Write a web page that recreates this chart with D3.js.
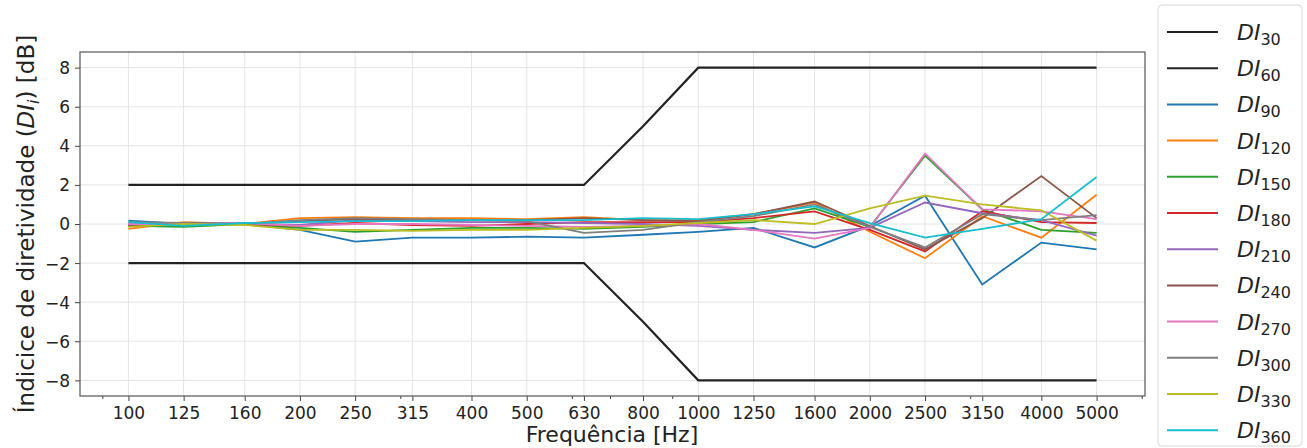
<!DOCTYPE html>
<html>
<head>
<meta charset="utf-8">
<script src="https://cdn.jsdelivr.net/npm/d3@7"></script>
<style>
  body { margin: 0; background: #fff; }
  text { font-family: "DejaVu Sans", sans-serif; fill: #222; }
</style>
</head>
<body>
<svg id="chart" width="1307" height="448"></svg>
<script>
// frequencies (Hz) on the x axis
var freqs = [100, 125, 160, 200, 250, 315, 400, 500, 630, 800, 1000, 1250, 1600, 2000, 2500, 3150, 4000, 5000];
var minorFreqs = [90, 300, 600, 700, 900, 3000, 6000];
var yTicks = [-8, -6, -4, -2, 0, 2, 4, 6, 8];

// tolerance limits
var di30 = [2, 2, 2, 2, 2, 2, 2, 2, 2, 5, 8, 8, 8, 8, 8, 8, 8, 8];
var di60 = [-2, -2, -2, -2, -2, -2, -2, -2, -2, -5, -8, -8, -8, -8, -8, -8, -8, -8];

// measured directivity index per angle
var di90  = [0.17, 0.0, 0.0, -0.3, -0.9, -0.7, -0.7, -0.65, -0.7, -0.55, -0.4, -0.2, -1.2, -0.1, 1.45, -3.1, -0.95, -1.3];
var di120 = [-0.25, 0.1, 0.0, 0.3, 0.35, 0.3, 0.3, 0.25, 0.35, 0.2, 0.2, 0.5, 1.1, -0.4, -1.75, 0.4, -0.7, 1.5];
var di150 = [-0.1, -0.15, 0.0, -0.2, -0.4, -0.3, -0.2, -0.2, -0.25, -0.15, 0.0, 0.1, 0.8, -0.15, 3.5, 0.75, -0.3, -0.45];
var di180 = [-0.05, 0.05, 0.0, -0.1, 0.05, -0.05, -0.1, 0.0, 0.1, 0.1, 0.1, 0.3, 0.65, -0.3, -1.4, 0.65, 0.1, 0.05];
var di210 = [0.0, 0.05, 0.0, -0.05, 0.2, 0.15, 0.1, 0.1, 0.05, 0.0, -0.1, -0.3, -0.45, -0.2, 1.1, 0.55, 0.2, -0.6];
var di240 = [-0.1, 0.05, 0.0, 0.15, 0.25, 0.2, 0.2, 0.2, 0.3, 0.2, 0.15, 0.5, 1.15, -0.1, -1.3, 0.3, 2.45, 0.3];
var di270 = [0.0, 0.0, 0.05, -0.1, 0.0, 0.0, -0.05, -0.1, -0.15, -0.1, 0.0, -0.3, -0.75, -0.2, 3.6, 0.75, 0.65, 0.25];
var di300 = [0.1, 0.05, 0.0, 0.2, 0.3, 0.25, 0.2, 0.15, -0.45, -0.3, 0.1, 0.4, 1.0, -0.15, -1.2, 0.5, 0.2, 0.45];
var di330 = [-0.15, 0.0, -0.05, -0.3, -0.3, -0.35, -0.3, -0.3, -0.2, -0.1, 0.05, 0.2, 0.0, 0.8, 1.45, 1.0, 0.7, -0.85];
var di360 = [0.1, -0.1, 0.05, 0.1, 0.15, 0.15, 0.2, 0.2, 0.2, 0.3, 0.25, 0.5, 0.9, 0.05, -0.7, -0.25, 0.25, 2.4];

var seriesNames = ['30', '60', '90', '120', '150', '180', '210', '240', '270', '300', '330', '360'];
var seriesValues = [di30, di60, di90, di120, di150, di180, di210, di240, di270, di300, di330, di360];
var colors = ['#222', '#222', '#1f77b4', '#ff7f0e', '#2ca02c', '#d62728', '#9467bd',
              '#8c564b', '#e377c2', '#7f7f7f', '#bcbd22', '#17becf'];

var svg = d3.select('#chart');

var plot = {l: 80, r: 1145, t: 52, b: 396};

// log x axis with 5% margin (in log space) like matplotlib
var lo = Math.log10(freqs[0]), hi = Math.log10(freqs[freqs.length - 1]);
var pad = (hi - lo) * 0.05;
var xScale = d3.scaleLog()
    .domain([Math.pow(10, lo - pad), Math.pow(10, hi + pad)])
    .range([plot.l, plot.r]);
var yScale = d3.scaleLinear().domain([-8.8, 8.8]).range([plot.b, plot.t]);

// grid
var grid = svg.append('g').attr('class', 'grid');
grid.selectAll('line.gx')
    .data(freqs)
    .join('line')
    .attr('class', 'gx')
    .attr('x1', d => xScale(d)).attr('x2', d => xScale(d))
    .attr('y1', plot.t).attr('y2', plot.b)
    .attr('stroke', '#e4e4e4').attr('stroke-width', 1);
grid.selectAll('line.gy')
    .data(yTicks)
    .join('line')
    .attr('class', 'gy')
    .attr('x1', plot.l).attr('x2', plot.r)
    .attr('y1', d => yScale(d)).attr('y2', d => yScale(d))
    .attr('stroke', '#e4e4e4').attr('stroke-width', 1);

// lines
var line = d3.line()
    .x((d, i) => xScale(freqs[i]))
    .y(d => yScale(d));

var linesG = svg.append('g');
linesG.selectAll('path')
    .data(seriesValues)
    .join('path')
    .attr('d', d => line(d))
    .attr('fill', 'none')
    .attr('stroke', (d, i) => colors[i])
    .attr('stroke-width', (d, i) => i < 2 ? 2.2 : 1.8)
    .attr('stroke-linejoin', 'miter');

// axes
var xAxis = d3.axisBottom(xScale)
    .tickValues(freqs)
    .tickFormat(d3.format('d'))
    .tickSize(5)
    .tickPadding(6);
var xMinor = d3.axisBottom(xScale)
    .tickValues(minorFreqs)
    .tickFormat('')
    .tickSize(3);
var yAxis = d3.axisLeft(yScale)
    .tickValues(yTicks)
    .tickFormat(d => d < 0 ? '\u2212' + Math.abs(d) : d)
    .tickSize(5)
    .tickPadding(5);

var xG = svg.append('g').attr('transform', 'translate(0,' + plot.b + ')').call(xAxis);
svg.append('g').attr('transform', 'translate(0,' + plot.b + ')').call(xMinor);
var yG = svg.append('g').attr('transform', 'translate(' + plot.l + ',0)').call(yAxis);

svg.selectAll('.domain').remove();
svg.selectAll('.tick line').attr('stroke', '#444');
xG.selectAll('text').style('font-size', '17px').style('font-family', 'DejaVu Sans');
yG.selectAll('text').style('font-size', '17px').style('font-family', 'DejaVu Sans').attr('dy', '0.35em');

// frame
svg.append('rect')
    .attr('x', plot.l).attr('y', plot.t)
    .attr('width', plot.r - plot.l).attr('height', plot.b - plot.t)
    .attr('fill', 'none').attr('stroke', '#555').attr('stroke-width', 1.2);

// axis labels
svg.append('text')
    .attr('x', 612)
    .attr('y', 442)
    .attr('text-anchor', 'middle')
    .style('font-size', '22px')
    .text('Frequência [Hz]');

var yl = svg.append('text')
    .attr('transform', 'translate(34,' + (plot.t + plot.b) / 2 + ') rotate(-90)')
    .attr('text-anchor', 'middle')
    .style('font-size', '23px');
yl.append('tspan').text('Índicice de diretividade (');
yl.append('tspan').style('font-style', 'italic').text('DI');
yl.append('tspan').style('font-style', 'italic').style('font-size', '16px').attr('dy', 5).text('i');
yl.append('tspan').attr('dy', -5).text(') [dB]');

// legend
var legend = svg.append('g');
legend.append('rect')
    .attr('x', 1158).attr('y', 5)
    .attr('width', 144).attr('height', 441)
    .attr('rx', 4)
    .attr('fill', '#fff').attr('stroke', '#d8d8d8');

var items = legend.selectAll('g.item')
    .data(seriesNames)
    .join('g')
    .attr('class', 'item')
    .attr('transform', (d, i) => 'translate(0,' + (32 + i * 36.2) + ')');
items.append('line')
    .attr('x1', 1167).attr('x2', 1218)
    .attr('stroke', (d, i) => colors[i])
    .attr('stroke-width', 2);
var lt = items.append('text')
    .attr('x', 1237).attr('y', 8)
    .style('font-size', '22px');
lt.append('tspan').style('font-style', 'italic').text('DI');
lt.append('tspan').style('font-size', '16px').attr('dy', 5).text(d => d);
</script>
</body>
</html>
